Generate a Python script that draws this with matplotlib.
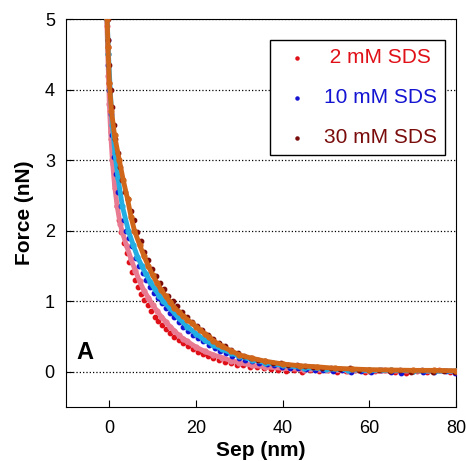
import numpy as np
import matplotlib.pyplot as plt

plt.rcParams['font.family'] = ['Liberation Sans', 'DejaVu Sans']

# 2 mM SDS
red_x = [-0.5, -0.3, -0.1, 0.1, 0.4, 0.8, 1.2, 1.7, 2.2, 2.8, 3.4, 4.0, 4.6, 5.3, 6.0, 6.7, 7.4, 8.1, 8.9, 9.7,
         10.5, 11.3, 12.2, 13.1, 14.0, 15.0, 16.0, 17.0, 18.1, 19.2, 20.4, 21.6, 22.8, 24.0, 25.3, 26.6, 28.0,
         29.4, 30.9, 32.4, 34.0, 35.6, 37.3, 39.0, 40.8, 42.6, 44.5, 46.4, 48.4, 50.4, 52.5, 54.6, 56.8, 59.0,
         61.3, 63.6, 66.0, 68.4, 70.9, 73.4, 76.0, 78.6]
red_y = [4.9, 4.5, 4.1, 3.7, 3.3, 2.95, 2.6, 2.35, 2.15, 1.98, 1.82, 1.68, 1.55, 1.42, 1.3, 1.2, 1.1, 1.02, 0.94, 0.86,
         0.78, 0.72, 0.66, 0.6, 0.55, 0.5, 0.45, 0.41, 0.36, 0.32, 0.28, 0.25, 0.22, 0.2, 0.17, 0.14, 0.12,
         0.1, 0.09, 0.07, 0.07, 0.05, 0.04, 0.03, 0.01, 0.02, 0.0, 0.02, 0.01, 0.03, 0.0, 0.01, 0.02, -0.01,
         0.01, 0.02, 0.0, -0.02, 0.01, 0.0, 0.02, 0.0]
pink_x = [-0.6, -0.4, -0.2, 0.0, 0.3, 0.7, 1.2, 1.8, 2.5, 3.0, 4, 5, 6, 7, 8, 9, 10, 11, 12, 13, 14, 15, 16, 17, 18,
          20, 22, 24, 26, 28, 30, 33, 36, 40, 45, 50, 55, 60, 70, 80]
pink_y = [5.0, 4.6, 4.2, 3.8, 3.4, 3.0, 2.65, 2.35, 2.1, 1.98, 1.78, 1.6, 1.43, 1.28, 1.15, 1.05, 0.95, 0.86, 0.78,
          0.71, 0.64, 0.58, 0.52, 0.47, 0.43, 0.35, 0.29, 0.24, 0.2, 0.16, 0.13, 0.09, 0.07, 0.05, 0.03, 0.02,
          0.015, 0.01, 0.01, 0.005]

# 10 mM SDS
blue_x = [-0.6, -0.4, -0.2, 0.0, 0.3, 0.7, 1.1, 1.6, 2.1, 2.7, 3.3, 3.9, 4.6, 5.3, 6.1, 6.9, 7.7, 8.5, 9.4, 10.3,
          11.2, 12.1, 13.0, 14.0, 15.0, 16.0, 17.1, 18.2, 19.3, 20.5, 21.7, 23.0, 24.3, 25.6, 27.0, 28.4, 29.9,
          31.4, 33.0, 34.6, 36.3, 38.0, 39.8, 41.6, 43.5, 45.4, 47.4, 49.4, 51.5, 53.6, 55.8, 58.0, 60.3, 62.6,
          65.0, 67.4, 69.9, 72.4, 75.0, 77.6, 79.8]
blue_y = [5.0, 4.7, 4.35, 4.0, 3.65, 3.35, 3.05, 2.8, 2.55, 2.35, 2.15, 2.0, 1.9, 1.78, 1.62, 1.5, 1.4, 1.3, 1.2,
          1.12, 1.05, 0.98, 0.9, 0.83, 0.77, 0.7, 0.63, 0.58, 0.52, 0.48, 0.43, 0.38, 0.34, 0.3, 0.26, 0.23,
          0.2, 0.17, 0.15, 0.12, 0.11, 0.09, 0.07, 0.06, 0.05, 0.04, 0.02, 0.03, 0.01, 0.02, 0.0, 0.01, -0.01,
          0.02, 0.0, -0.02, 0.01, 0.0, -0.01, 0.01, -0.02]
cyan_x = [-0.5, -0.2, 0.2, 0.7, 1.3, 2.0, 3.0, 4.4, 5.5, 6.5, 7.5, 8.5, 9.5, 10.5, 11.5, 12.5, 14, 16, 18, 20, 22,
          24, 26, 28, 30, 33, 36, 40, 45, 50, 55, 60, 65, 70, 75, 80]
cyan_y = [5.0, 4.5, 4.0, 3.5, 3.1, 2.75, 2.35, 2.0, 1.8, 1.63, 1.5, 1.38, 1.27, 1.17, 1.08, 1.0, 0.9, 0.76, 0.64,
          0.54, 0.45, 0.38, 0.32, 0.27, 0.22, 0.17, 0.13, 0.09, 0.06, 0.04, 0.03, 0.02, 0.02, 0.015, 0.01, 0.01]

# 30 mM SDS
dred_x = [-0.4, -0.2, 0.0, 0.3, 0.6, 1.0, 1.4, 1.9, 2.4, 3.0, 3.6, 4.2, 4.9, 5.6, 6.4, 7.2, 8.0, 8.9, 9.8, 10.7,
          11.6, 12.6, 13.6, 14.6, 15.7, 16.8, 17.9, 19.0, 20.2, 21.4, 22.7, 24.0, 25.3, 26.7, 28.1, 29.6, 31.1,
          32.7, 34.3, 36.0, 37.7, 39.5, 41.3, 43.2, 45.1, 47.1, 49.1, 51.2, 53.3, 55.5, 57.7, 60.0, 62.3, 64.7,
          67.1, 69.6, 72.1, 74.7, 77.3, 79.8]
dred_y = [5.0, 4.7, 4.35, 4.0, 3.75, 3.5, 3.3, 3.1, 2.9, 2.72, 2.55, 2.45, 2.28, 2.15, 1.98, 1.85, 1.7, 1.58,
          1.46, 1.36, 1.26, 1.17, 1.08, 1.0, 0.93, 0.85, 0.78, 0.7, 0.65, 0.59, 0.52, 0.46, 0.41, 0.36, 0.31,
          0.26, 0.23, 0.2, 0.17, 0.15, 0.13, 0.12, 0.1, 0.09, 0.08, 0.07, 0.06, 0.05, 0.04, 0.05, 0.03, 0.02,
          0.03, 0.01, 0.02, 0.0, 0.02, -0.01, 0.01, 0.0]
orange_x = [-0.5, -0.3, 0.0, 0.5, 1.2, 2.3, 3.2, 4.2, 5.0, 5.8, 7, 8, 9, 10, 11, 12, 13, 14, 15, 16, 17, 18, 19, 20,
            21, 22, 23, 24, 25, 26, 28, 30, 33, 36, 40, 44, 48, 52, 56, 60, 65, 70, 75, 80]
orange_y = [5.0, 4.6, 4.1, 3.7, 3.35, 3.0, 2.72, 2.45, 2.2, 2.0, 1.8, 1.64, 1.5, 1.37, 1.26, 1.16, 1.07, 0.99,
            0.91, 0.85, 0.79, 0.74, 0.69, 0.64, 0.59, 0.54, 0.49, 0.44, 0.4, 0.36, 0.3, 0.24, 0.19, 0.15, 0.11,
            0.085, 0.07, 0.05, 0.04, 0.03, 0.025, 0.02, 0.02, 0.015]

fig = plt.figure(figsize=(4.66, 4.61), dpi=100)
ax = fig.add_axes([0.1416, 0.117, 0.837, 0.8416])

ax.scatter(red_x, red_y, s=10, color='#e01018', zorder=3, label=' 2 mM SDS')
ax.plot(pink_x, pink_y, color='#e87a92', lw=3.5, marker='o', ms=3.5, zorder=4)
ax.scatter(blue_x, blue_y, s=10, color='#1414d2', zorder=5, label='10 mM SDS')
ax.plot(cyan_x, cyan_y, color='#22aee2', lw=3.5, marker='o', ms=3.5, zorder=6)
ax.scatter(dred_x, dred_y, s=10, color='#7a0c0c', zorder=7, label='30 mM SDS')
ax.plot(orange_x, orange_y, color='#d0661a', lw=3.5, marker='o', ms=3.5, zorder=8)

ax.set_xlim(-10, 80)
ax.set_ylim(-0.5, 5)
ax.set_xticks([0, 20, 40, 60, 80])
ax.set_yticks([0, 1, 2, 3, 4, 5])
ax.tick_params(direction='in', labelsize=13, length=5, pad=8)
ax.tick_params(axis='x', pad=9)
ax.yaxis.grid(True, linestyle=':', color='black', lw=0.9)
ax.set_axisbelow(True)

ax.set_xlabel('Sep (nm)', fontsize=15, fontweight='bold', labelpad=3)
ax.set_ylabel('Force (nN)', fontsize=15, fontweight='bold', labelpad=8)
ax.text(-7.6, 0.27, 'A', fontsize=17, fontweight='bold', va='center')

leg = ax.legend(loc='upper right', bbox_to_anchor=(0.972, 0.946), borderaxespad=0, fontsize=15,
                markerscale=0.7, handletextpad=0.4, labelspacing=1.0, borderpad=0.4, fancybox=False,
                framealpha=1, handlelength=1.8, labelcolor='markerfacecolor')
leg.get_frame().set_edgecolor('black')
leg.get_frame().set_linewidth(1.0)
leg.set_zorder(10)

plt.savefig('out.png', dpi=100)
